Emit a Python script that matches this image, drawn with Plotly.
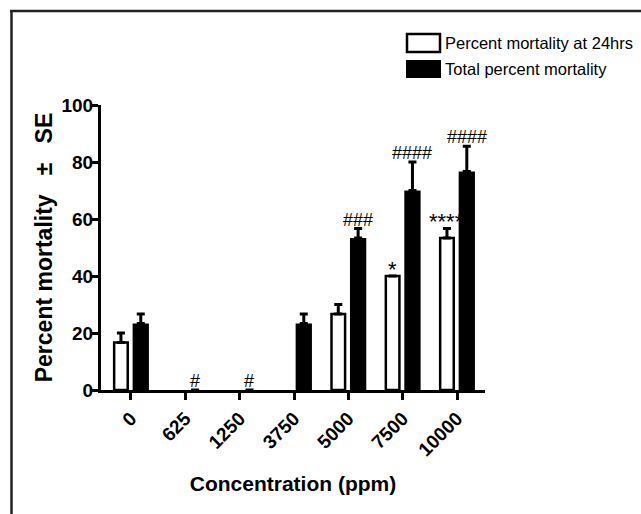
import plotly.graph_objects as go

# ---- data ----
concentrations = ["0", "625", "1250", "3750", "5000", "7500", "10000"]
mort_24h = [16.67, 0, 0, 0, 26.67, 40.0, 53.33]
mort_24h_se = [3.33, None, None, None, 3.33, None, 3.33]
mort_total = [23.33, 0, 0, 23.33, 53.33, 70.0, 76.67]
mort_total_se = [3.33, None, None, 3.33, 3.33, 10.0, 8.82]
series_names = ["Percent mortality at 24hrs", "Total percent mortality"]
# significance labels: (category index, series index, label)
sig_labels = [(1, 1, "#"), (2, 1, "#"), (4, 1, "###"), (5, 0, "*"),
              (5, 1, "####"), (6, 0, "****"), (6, 1, "####")]

# ---- layout geometry ----
W, H = 641, 514
ML, MR, MT, MB = 101, 156, 105, 124
PW, PH = W - ML - MR, H - MT - MB

def px_x(px):
    return (px - ML) / PW

def px_y(py):
    return (H - MB - py) / PH

FONT = "Liberation Sans, Arial, sans-serif"
OFF = [-0.31, 0.03]
WID = [0.25, 0.30]

# zero-height open bars are not drawn (no visible outline at the baseline)
open_plot = [v if v else None for v in mort_24h]

fig = go.Figure()
fig.add_trace(go.Bar(
    x=concentrations, y=open_plot, name=series_names[0],
    offset=OFF[0], width=WID[0],
    marker=dict(color="white", line=dict(color="black", width=2.5)),
    error_y=dict(type="data", symmetric=False, array=mort_24h_se,
                 arrayminus=[0] * len(mort_24h), color="black",
                 thickness=3, width=4),
    showlegend=False, cliponaxis=False,
))
fig.add_trace(go.Bar(
    x=concentrations, y=mort_total, name=series_names[1],
    offset=OFF[1], width=WID[1],
    marker=dict(color="black", line=dict(color="black", width=0)),
    error_y=dict(type="data", symmetric=False, array=mort_total_se,
                 arrayminus=[0] * len(mort_total), color="black",
                 thickness=3, width=4),
    showlegend=False, cliponaxis=False,
))

vals = [mort_24h, mort_total]
ses = [mort_24h_se, mort_total_se]
annotations = []
for ci, si, lab in sig_labels:
    top = vals[si][ci] + (ses[si][ci] or 0)
    star = lab.startswith("*")
    annotations.append(dict(
        x=ci + OFF[si] + WID[si] / 2, y=top, xref="x", yref="y",
        text=lab, showarrow=False, yanchor="middle",
        yshift=7 if star else 9,
        font=dict(family=FONT, size=22 if star else 18, color="black"),
    ))

# legend drawn manually (wide rectangular swatches)
shapes = [
    dict(type="rect", xref="paper", yref="paper",
         x0=px_x(407), x1=px_x(440), y0=px_y(52), y1=px_y(34),
         line=dict(color="black", width=2.5), fillcolor="white"),
    dict(type="rect", xref="paper", yref="paper",
         x0=px_x(406), x1=px_x(441), y0=px_y(78), y1=px_y(60),
         line=dict(color="black", width=0), fillcolor="black"),
    # outer frame (left and top edges)
    dict(type="line", xref="paper", yref="paper",
         x0=px_x(11.5), x1=px_x(11.5), y0=px_y(10), y1=px_y(514),
         line=dict(color="#222222", width=2.5)),
    dict(type="line", xref="paper", yref="paper",
         x0=px_x(10), x1=px_x(641), y0=px_y(11), y1=px_y(11),
         line=dict(color="#222222", width=2.5)),
]
for i, name in enumerate(series_names):
    annotations.append(dict(
        x=px_x(443), y=px_y(43 + 26 * i), xref="paper", yref="paper",
        text=name, showarrow=False, xanchor="left", yanchor="middle",
        font=dict(family=FONT, size=16.5, color="black"),
    ))

fig.update_layout(
    width=W, height=H, autosize=False,
    margin=dict(l=ML, r=MR, t=MT, b=MB, pad=0),
    paper_bgcolor="white", plot_bgcolor="white",
    barmode="group",
    annotations=annotations, shapes=shapes,
    xaxis=dict(
        type="category", range=[-0.552, 6.515],
        showline=True, linecolor="black", linewidth=3,
        ticks="outside", ticklen=7, tickwidth=3, tickcolor="black",
        tickangle=-45, showgrid=False, zeroline=False,
        tickfont=dict(family=FONT, size=19, color="black", weight="bold"),
        title=dict(text="Concentration (ppm)", standoff=18,
                   font=dict(family=FONT, size=21, color="black", weight="bold")),
        automargin=False,
    ),
    yaxis=dict(
        range=[0, 100], tickvals=[0, 20, 40, 60, 80, 100],
        showline=True, linecolor="black", linewidth=3,
        ticks="outside", ticklen=6, tickwidth=3, tickcolor="black",
        ticklabelstandoff=-5,
        showgrid=False, zeroline=False,
        tickfont=dict(family=FONT, size=19, color="black", weight="bold"),
        title=dict(text="Percent mortality   ±   SE", standoff=3,
                   font=dict(family=FONT, size=23, color="black", weight="bold")),
        automargin=False,
    ),
)

fig.write_html("out.html",
               config={"displayModeBar": False},
               post_script="document.body.style.margin='0';"
                           "document.body.style.overflow='hidden';")
